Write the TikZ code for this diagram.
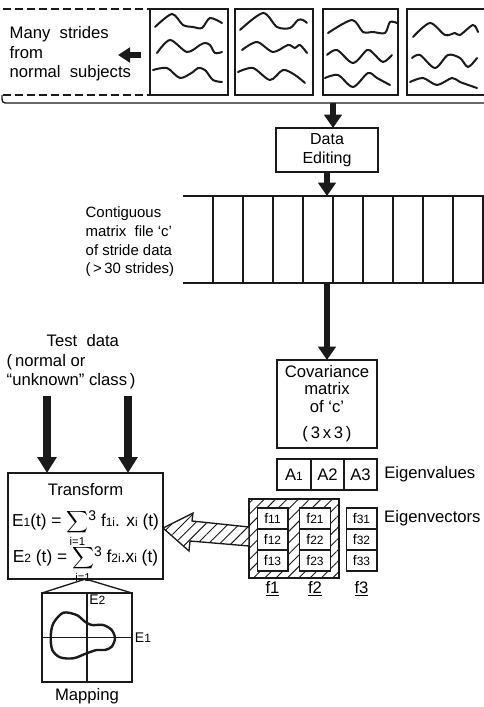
\documentclass[tikz,border=0pt]{standalone}
\usepackage{fontspec}
\setmainfont{Liberation Sans}
\usepackage{amsmath}
\usepackage{tikz}
\usetikzlibrary{positioning, arrows.meta, patterns.meta, calc}
\definecolor{gaitInk}{HTML}{1A1A1A}
\colorlet{gaitPaper}{white}
\newcommand\ix[1]{{\fontsize{9}{9}\selectfont #1}}
\newcommand\sumi{$\underset{\mbox{\fontsize{8.5}{8.5}\selectfont i=1}}{\mbox{\scalebox{0.95}{$\displaystyle\sum$}}}$\raisebox{4pt}{\fontsize{10.5}{10.5}\selectfont 3}}

\begin{document}
\begin{tikzpicture}[x=0.75pt, y=-0.75pt, font=\fontsize{12.5}{14.5}\selectfont,
  box/.style={draw=gaitInk, line width=1pt, fill=gaitPaper, inner sep=0pt, outer sep=0pt, align=center},
  cell/.style={box, minimum width=23pt, minimum height=15.75pt, font=\fontsize{10.5}{11}\selectfont},
  fatarrow/.style={draw=gaitInk, line width=5pt, -{Triangle[width=13pt, length=10pt]}},
  testarrow/.style={draw=gaitInk, line width=6pt, -{Triangle[width=14pt, length=12pt]}},
  wave/.style={draw=gaitInk, line width=1.5pt, line cap=round},
  hatch/.style={pattern={Lines[angle=45, distance=6pt, line width=0.7pt]}, pattern color=gaitInk}]
  \useasboundingbox (0,0) rectangle (484,707);

  \foreach \x/\w [count=\i] in {150/78, 235/78, 323/75, 407/82}
    \node[box, anchor=north west, minimum width=\w*0.75pt, minimum height=64.5pt] (s\i) at (\x,9) {};

  \begin{scope}[shift={(s1.north west)}]
    \draw[wave] plot[smooth] coordinates {(5,18) (22,5) (33,16) (43,18) (52,19) (60,9) (72,14)};
    \draw[wave] plot[smooth] coordinates {(7,44) (20,31) (37,43) (50,36) (55,34) (60,36) (65,44) (72,43)};
    \draw[wave] plot[smooth] coordinates {(3,61) (17,59) (30,69) (43,63) (48,59) (55,61) (63,71) (72,73)};
  \end{scope}
  \begin{scope}[shift={(s2.north west)}]
    \draw[wave] plot[smooth] coordinates {(5,21) (28,4) (42,18) (55,19) (63,11) (68,11) (72,14)};
    \draw[wave] plot[smooth] coordinates {(7,41) (22,33) (38,43) (53,36) (60,39) (65,36) (72,44)};
    \draw[wave] plot[smooth] coordinates {(3,63) (18,59) (35,71) (48,61) (60,66) (70,74)};
  \end{scope}
  \begin{scope}[shift={(s3.north west)}]
    \draw[wave] plot[smooth] coordinates {(5,24) (29,11) (40,23) (50,23) (62,24) (67,13) (74,14)};
    \draw[wave] plot[smooth] coordinates {(4,46) (14,41) (30,54) (44,41) (50,44) (60,53) (69,46)};
    \draw[wave] plot[smooth] coordinates {(2,69) (15,66) (30,78) (45,64) (54,69) (67,76)};
  \end{scope}
  \begin{scope}[shift={(s4.north west)}]
    \draw[wave] plot[smooth] coordinates {(6,28) (23,14) (38,26) (48,24) (53,26) (66,16) (71,23)};
    \draw[wave] plot[smooth] coordinates {(5,49) (13,46) (28,59) (41,46) (53,49) (61,58) (70,49)};
    \draw[wave] plot[smooth] coordinates {(3,73) (16,69) (30,76) (45,69) (53,73) (70,79)};
  \end{scope}

  \draw[gaitInk, line width=1pt, dash pattern=on 6pt off 3pt] (3,9) -- (s1.north west);
  \draw[gaitInk, line width=1pt, dash pattern=on 6pt off 3pt] (3,95) -- (s1.south west);
  \draw[gaitInk, line width=1pt] (2,95) .. controls (2,103) .. (9,103) -- (490,103);
  \coordinate (bus) at (333,103);

  \node[anchor=west, align=left] (many) at (5,54) {Many\ \ strides\\from\\normal\ \ subjects};
  \coordinate (mout) at (141,55);
  \draw[draw=gaitInk, line width=4pt, -{Triangle[width=11pt, length=9pt]}] (mout) -- ++(-23,0);

  \node[box, minimum width=76.5pt, minimum height=33pt, font=\fontsize{12}{14}\selectfont] (edit) at (327,150) {Data\\Editing};
  \draw[fatarrow] (bus) -- (bus |- edit.north);

  \node[minimum width=230.25pt, minimum height=65.25pt, inner sep=0pt, outer sep=0pt] (file) at (336.5,239.5) {};
  \draw[gaitInk, line width=1pt] (file.north west) -- (file.north east);
  \draw[gaitInk, line width=1pt] (file.south west) -- (file.south east);
  \foreach \k in {0,...,9}
    \draw[gaitInk, line width=1pt] (213+30*\k,196) -- (213+30*\k,283);
  \draw[fatarrow] (edit.south) -- (edit.south |- file.north);
  \node[anchor=west, align=left, font=\fontsize{11.2}{14}\selectfont] (flbl) at (81,242)
    {Contiguous\\matrix\ \ file `c'\\of stride data\\(\,>\,30 strides)};

  \node[box, minimum width=75pt, minimum height=66pt, font=\fontsize{12.5}{13}\selectfont] (cov) at (327,404)
    {Covariance\\matrix\\of `c'\\[7pt](\,3\,x\,3\,)};
  \draw[fatarrow] (file.south -| cov.north) -- (cov.north);

  \node[box, minimum width=25.5pt, minimum height=23.25pt] (a1) at (294,474.5) {A\ix{1}};
  \node[box, minimum width=24.75pt, minimum height=23.25pt, right=0pt of a1] (a2) {A2};
  \node[box, minimum width=24.75pt, minimum height=23.25pt, right=0pt of a2] (a3) {A3};
  \node[right=2pt of a3] (eval) {Eigenvalues};

  \node[box, hatch, minimum width=67.5pt, minimum height=59.25pt] (ev) at (294,538.5) {};
  \node[cell] (f11) at (272.5,518.5) {f\ix{11}};
  \node[cell, below=0pt of f11] (f12) {f\ix{12}};
  \node[cell, below=0pt of f12] (f13) {f\ix{13}};
  \node[cell] (f21) at (315,518.5) {f\ix{21}};
  \node[cell, below=0pt of f21] (f22) {f\ix{22}};
  \node[cell, below=0pt of f22] (f23) {f\ix{23}};
  \node[cell] (f31) at (361.5,518.5) {f\ix{31}};
  \node[cell, below=0pt of f31] (f32) {f\ix{32}};
  \node[cell, below=0pt of f32] (f33) {f\ix{33}};
  \node[right=2pt of f31] (evec) {Eigenvectors};
  \node[below=4pt of f13] (l1) {\underline{f1}};
  \node[below=4pt of f23] (l2) {\underline{f2}};
  \node[below=4pt of f33] (l3) {\underline{f3}};

  \node[box, minimum width=116.25pt, minimum height=79.5pt] (tr) at (85.5,526) {};
  \node[anchor=base, inner sep=0.5pt] (trt) at (85.5,495) {Transform};
  \node[anchor=base, inner sep=0.5pt, font=\fontsize{13}{14}\selectfont] (eq1) at (85.5,526) {E\ix{1}(t) = \sumi\ f\ix{1i}. x\ix{i} (t)};
  \node[anchor=base, inner sep=0.5pt, font=\fontsize{13}{14}\selectfont] (eq2) at (85.5,562) {E\ix{2} (t) = \sumi\ f\ix{2i}.x\ix{i} (t)};

  \draw[gaitInk, line width=1pt, preaction={fill=gaitPaper}, hatch]
    ($(tr.east)+(0,2)$) -- ($(tr.east)+(30,-13)$) -- ($(tr.east)+(29,-5)$)
    -- ($(ev.west)+(0,-11.5)$) -- ($(ev.west)+(0,7.5)$)
    -- ($(tr.east)+(27,15)$) -- ($(tr.east)+(26,25)$) -- cycle;

  \node[anchor=west, align=left] (test) at (2,362) {\hspace*{30pt}Test\ \ data\\(\,normal or\\``unknown'' class\,)};
  \coordinate (t1) at (47,396);
  \coordinate (t2) at (128,396);
  \draw[testarrow] (t1) -- (t1 |- tr.north);
  \draw[testarrow] (t2) -- (t2 |- tr.north);

  \node[box, minimum width=67.5pt, minimum height=66.75pt] (map) at (87,637.5) {};
  \draw[gaitInk, line width=1pt] (map.north) -- (map.south);
  \draw[gaitInk, line width=1pt] (map.west) -- (map.east);
  \draw[gaitInk, line width=1pt] (map.north west) -- (tr.south) -- (map.north east);
  \draw[gaitInk, line width=1.8pt, shift={(map.center)}] plot[smooth cycle] coordinates
    {(-23.7,-24.8) (-10.3,-22.5) (-2,-15.8) (4.7,-12.5) (16.3,-12.5) (24.7,-7.5) (28,0.8) (24.7,9.2)
     (18,12.5) (9.7,12.5) (-0.3,15.8) (-13.7,20.8) (-27,19.8) (-34.7,12.5) (-36.3,-0.8) (-33.7,-14.2)};
  \node[anchor=north west, inner sep=1.5pt, font=\fontsize{10.5}{11}\selectfont] (e2) at (map.north) {E\ix{2}};
  \node[anchor=west, inner sep=2pt, font=\fontsize{10.5}{11}\selectfont] (e1) at (map.east) {E\ix{1}};
  \node[below=1pt of map] (mapl) {Mapping};
\end{tikzpicture}
\end{document}
